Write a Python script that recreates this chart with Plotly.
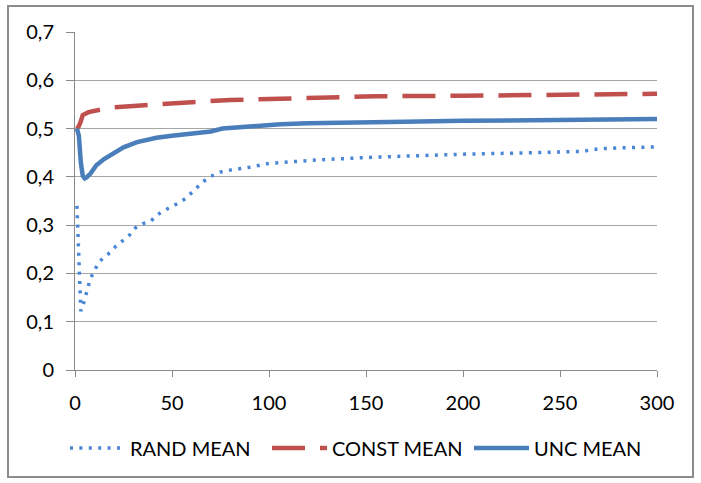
import plotly.graph_objects as go

# Iteration positions and mean values for each strategy
rand_x = [1, 3, 4, 5, 6, 8, 10, 12, 15, 18, 21, 25, 28, 31, 35, 39, 42, 45, 49, 53,
          57, 60, 63, 66, 70, 75, 80, 90, 100, 110, 125, 150, 175, 200, 225, 250,
          262, 266, 270, 280, 300]
rand_mean = [0.34, 0.122, 0.132, 0.145, 0.16, 0.19, 0.205, 0.222, 0.234, 0.243, 0.256,
             0.268, 0.279, 0.294, 0.303, 0.308, 0.32, 0.328, 0.336, 0.345, 0.355,
             0.367, 0.38, 0.39, 0.401, 0.41, 0.414, 0.42, 0.428, 0.431, 0.435, 0.44,
             0.444, 0.447, 0.449, 0.452, 0.453, 0.456, 0.458, 0.46, 0.462]

const_x = [1, 2, 3, 4, 7, 10, 19, 34, 50, 59, 70, 80, 100, 106, 130, 155, 200, 250, 300]
const_mean = [0.50, 0.505, 0.515, 0.528, 0.534, 0.536, 0.544, 0.548, 0.551, 0.554,
              0.557, 0.559, 0.561, 0.562, 0.565, 0.567, 0.568, 0.570, 0.572]

unc_x = [1, 2, 3, 4, 5, 6, 8, 11, 15, 18, 22, 25, 32, 42, 50, 60, 70, 76, 85, 100,
         106, 120, 140, 170, 200, 250, 300]
unc_mean = [0.50, 0.485, 0.43, 0.402, 0.397, 0.399, 0.407, 0.424, 0.437, 0.444, 0.454,
            0.461, 0.472, 0.481, 0.485, 0.489, 0.494, 0.500, 0.503, 0.506, 0.509,
            0.511, 0.513, 0.514, 0.516, 0.518, 0.520]

series_names = ["RAND MEAN", "CONST MEAN", "UNC MEAN"]

FONT = "Lato"
GRID = "#A6A6A6"
AXIS = "#8A8A8A"

fig = go.Figure()
fig.add_trace(go.Scatter(x=rand_x, y=rand_mean, mode="lines", name=series_names[0],
                         line=dict(color="#4A86D6", width=3.5, dash="3px,6.4px")))
fig.add_trace(go.Scatter(x=const_x, y=const_mean, mode="lines", name=series_names[1],
                         line=dict(color="#C0504D", width=4.5, dash="33px,15px")))
fig.add_trace(go.Scatter(x=unc_x, y=unc_mean, mode="lines", name=series_names[2],
                         line=dict(color="#4A7EBB", width=4.5)))

# plot area spans 75..657 px horizontally and 32..370 px vertically
L, R, T, B = 75, 44, 32, 113
W, H = 701, 483
pw, ph = W - L - R, H - T - B

def px_to_paper(px, py):
    return (px - L) / pw, (H - B - py) / ph

x0, y0 = px_to_paper(8, 477)
x1, y1 = px_to_paper(693, 6)
fig.add_shape(type="rect", xref="paper", yref="paper", x0=x0, y0=y0, x1=x1, y1=y1,
              line=dict(color="#8C8C8C", width=2), fillcolor="rgba(0,0,0,0)", layer="below")

# legend sits below the plot area, starting just left of the y axis
leg_x, leg_y = px_to_paper(65, 448)

fig.update_layout(
    width=W, height=H,
    margin=dict(l=L, r=R, t=T, b=B, autoexpand=False),
    paper_bgcolor="white", plot_bgcolor="white",
    separators=", ",
    font=dict(family=FONT, size=20, color="#000000"),
    showlegend=True,
    legend=dict(orientation="h", xref="paper", yref="paper",
                x=leg_x, xanchor="left", y=leg_y, yanchor="middle",
                font=dict(family=FONT, size=20, color="#000000"),
                itemwidth=55, entrywidth=132, tracegroupgap=0),
    xaxis=dict(range=[0, 300], tickmode="linear", tick0=0, dtick=50,
               showgrid=False, zeroline=False, showline=True, linecolor=AXIS, linewidth=1,
               ticks="outside", ticklen=6, tickcolor=AXIS, ticklabelstandoff=9,
               tickfont=dict(family=FONT, size=20, color="#000000")),
    yaxis=dict(range=[0, 0.7], tickmode="linear", tick0=0, dtick=0.1,
               showgrid=True, gridcolor=GRID, gridwidth=1, zeroline=False,
               showline=True, linecolor=AXIS, linewidth=1,
               ticks="outside", ticklen=8, tickcolor=AXIS, ticklabelstandoff=8,
               tickfont=dict(family=FONT, size=20, color="#000000")),
)

fig.write_html("out.html")
